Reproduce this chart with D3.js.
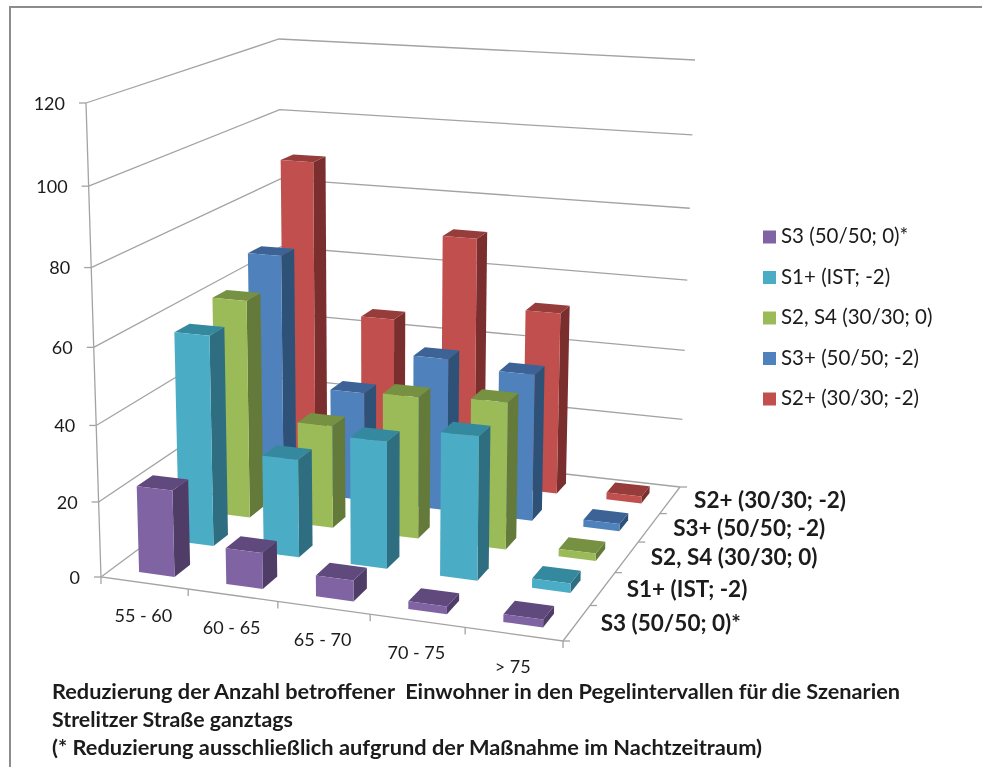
<!DOCTYPE html>
<html><head><meta charset="utf-8">
<script src="https://cdn.jsdelivr.net/npm/d3@7/dist/d3.min.js"></script>
<style>html,body{margin:0;padding:0;background:#fff}svg{display:block}text{font-family:Lato,"Open Sans",sans-serif;fill:#1a1a1a}</style>
</head><body><svg id="c" width="982" height="767"></svg>
<script>
const categories = ["55 - 60","60 - 65","65 - 70","70 - 75","> 75"];
const seriesNames = ["S3 (50/50; 0)*","S1+ (IST; -2)","S2, S4 (30/30; 0)","S3+ (50/50; -2)","S2+ (30/30; -2)"];
const s3Values  = [23, 9.5, 5.5, 2, 2];
const s1pValues = [57, 26.5, 34, 38, 2.5];
const s2s4Values= [60.5, 28.5, 39, 40, 2];
const s3pValues = [67.5, 31, 43, 41, 2];
const s2pValues = [89, 46, 71, 52, 2];
const allValues = [s3Values,s1pValues,s2s4Values,s3pValues,s2pValues];
const yTicks = [0,20,40,60,80,100,120];
const titleLines = ["Reduzierung der Anzahl betroffener  Einwohner in den Pegelintervallen für die Szenarien","Strelitzer Straße ganztags","(* Reduzierung ausschließlich aufgrund der Maßnahme im Nachtzeitraum)"];
const faceColors = ["#8064A2","#4BACC6","#9BBB59","#4F81BD","#C0504D"];
const topColors  = ["#604A7B","#35899F","#769142","#3C6496","#963C3A"];
const sideColors = ["#503D68","#2E6E80","#647A3A","#2F5178","#7A2F2D"];

// perspective frame of the 3D box
const floorQ = [[101,577],[563,641],[680,487],[283,442]];
const ceilQ  = [[86,103],[574,134],[695,60],[279,39]];
function homography(q){
  const [[x0,y0],[x1,y1],[x2,y2],[x3,y3]] = q;
  const dx1=x1-x2,dx2=x3-x2,sx=x0-x1+x2-x3,dy1=y1-y2,dy2=y3-y2,sy=y0-y1+y2-y3;
  const det=dx1*dy2-dx2*dy1;
  const g=(sx*dy2-dx2*sy)/det,h=(dx1*sy-sx*dy1)/det;
  const a=x1-x0+g*x1,b=x3-x0+h*x3,d=y1-y0+g*y1,e=y3-y0+h*y3;
  return (u,w)=>{const W=g*u+h*w+1;return [(a*u+b*w+x0)/W,(d*u+e*w+y0)/W];};
}
const floorH=homography(floorQ), ceilH=homography(ceilQ);
const uScale=d3.scaleLinear().domain([0,categories.length]).range([0,1]);
const wScale=d3.scaleLinear().domain([0,seriesNames.length]).range([0,1]);
const vScale=d3.scaleLinear().domain([0,120]).range([0,1]);
const K=0.94;
function P(cat,ser,val){
  const u=uScale(cat),w=wScale(ser),t0=vScale(val);
  const t=K*t0/(1+(K-1)*t0);
  const a=floorH(u,w),b=ceilH(u,w);
  return [a[0]+(b[0]-a[0])*t,a[1]+(b[1]-a[1])*t];
}
const svg=d3.select("#c");
svg.append("defs").append("filter").attr("id","soft").attr("filterUnits","userSpaceOnUse").attr("x",0).attr("y",0).attr("width",982).attr("height",767)
  .append("feGaussianBlur").attr("stdDeviation",0.45);
const line=d3.line();
const root=svg.append("g").attr("filter","url(#soft)");
root.append("rect").attr("width",982).attr("height",767).attr("fill","#fff");
root.append("path").attr("d",line([[10,767],[10,7],[982,7]])).attr("fill","none").attr("stroke","#8c8c8c").attr("stroke-width",2);
const grid="#a3a3a3";
const nC=categories.length,nS=seriesNames.length;
// walls
yTicks.forEach(v=>{
  root.append("path").attr("d",line([P(0,0,v),P(0,nS,v),P(nC,nS,v)])).attr("fill","none").attr("stroke",grid).attr("stroke-width",1.3);
  const p=P(0,0,v);
  root.append("line").attr("x1",p[0]-7).attr("x2",p[0]).attr("y1",p[1]).attr("y2",p[1]).attr("stroke",grid).attr("stroke-width",1.3);
  root.append("text").attr("x",p[0]-21).attr("y",p[1]+2).attr("text-anchor","end").attr("dominant-baseline","middle").attr("font-size",18).text(v);
});
// floor edges and axis
root.append("path").attr("d",line([P(0,0,120),P(0,0,0),P(nC,0,0),P(nC,nS,0)])).attr("fill","none").attr("stroke",grid).attr("stroke-width",1.3);
d3.range(0,nC+1).forEach(i=>{const p=P(i,0,0);root.append("line").attr("x1",p[0]).attr("x2",p[0]).attr("y1",p[1]).attr("y2",p[1]+7).attr("stroke",grid).attr("stroke-width",1.3);});
d3.range(0,nS+1).forEach(i=>{const p=P(nC,i,0);root.append("line").attr("x1",p[0]).attr("x2",p[0]+7).attr("y1",p[1]).attr("y2",p[1]).attr("stroke",grid).attr("stroke-width",1.3);});
// category labels
categories.forEach((c,i)=>{const p=P(i+0.5,0,0);
  root.append("text").attr("x",p[0]-1).attr("y",p[1]+34).attr("text-anchor","middle").attr("dominant-baseline","middle").attr("font-size",18).text(c);});
// series labels
seriesNames.forEach((s,i)=>{const p=P(nC,i+0.5,0);
  root.append("text").attr("x",p[0]+24).attr("y",p[1]+2.5).attr("dominant-baseline","middle").attr("font-size",22.5).attr("font-weight",700).text(s);});
// bars back to front
const A0=.31,A1=.72,B0=.27,B1=.66;
for(let s=nS-1;s>=0;s--){
  for(let c=0;c<nC;c++){
    const v=allValues[s][c];
    const fl=(val)=>P(c+A0,s+B0,val),fr=(val)=>P(c+A1,s+B0,val),br=(val)=>P(c+A1,s+B1,val),bl=(val)=>P(c+A0,s+B1,val);
    const g=root.append("g");
    g.append("path").attr("d",line([fr(0),br(0),br(v),fr(v)])+"Z").attr("fill",sideColors[s]);
    g.append("path").attr("d",line([fl(v),fr(v),br(v),bl(v)])+"Z").attr("fill",topColors[s]);
    g.append("path").attr("d",line([fl(0),fr(0),fr(v),fl(v)])+"Z").attr("fill",faceColors[s]);
  }
}
// legend
const legY=d3.scalePoint().domain(seriesNames).range([237,399]);
seriesNames.forEach((s,i)=>{
  root.append("rect").attr("x",763).attr("y",legY(s)-6.5).attr("width",13).attr("height",13).attr("fill",faceColors[i]);
  root.append("text").attr("x",781).attr("y",legY(s)+1).attr("dominant-baseline","middle").attr("font-size",20.5).text(s);
});
// title
const titleY=[694,722,750], titleW=[848,241,710];
titleLines.forEach((t,i)=>{root.append("text").attr("x",52).attr("y",titleY[i]).attr("dominant-baseline","middle").attr("font-size",21).attr("font-weight",700).attr("textLength",titleW[i]).attr("lengthAdjust","spacingAndGlyphs").style("white-space","pre").text(t);});
</script></body></html>
